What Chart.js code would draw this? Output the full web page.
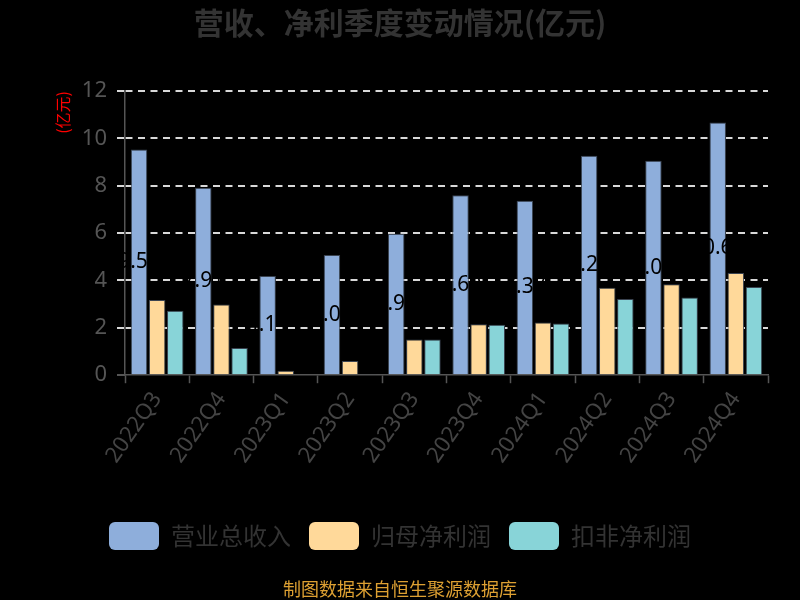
<!DOCTYPE html>
<html>
<head>
<meta charset="utf-8">
<script src="https://cdn.jsdelivr.net/npm/chart.js@4"></script>
<style>
  html, body { margin:0; padding:0; background:#000; }
  canvas { display:block; }
</style>
</head>
<body>
<canvas id="c" width="800" height="600"></canvas>
<script>
const categories = ['2022Q3','2022Q4','2023Q1','2023Q2','2023Q3','2023Q4','2024Q1','2024Q2','2024Q3','2024Q4'];
const revenue = [9.53, 7.91, 4.19, 5.08, 5.97, 7.60, 7.37, 9.27, 9.05, 10.67];
const netProfit = [3.17, 2.99, 0.19, 0.60, 1.51, 2.15, 2.23, 3.69, 3.84, 4.31];
const deductedProfit = [2.72, 1.15, 0.00, 0.03, 1.51, 2.13, 2.18, 3.22, 3.28, 3.72];
const seriesNames = ['营业总收入', '归母净利润', '扣非净利润'];
const yTicks = [0, 2, 4, 6, 8, 10, 12];

const colors = ['#8eaedb', '#ffd99a', '#88d4d8'];
const FONT = '"Noto Sans", "Noto Sans CJK SC", sans-serif';
const CJK = '"Noto Sans CJK SC", "Noto Sans", sans-serif';

const labelPlugin = {
  id: 'barLabels',
  afterDatasetsDraw(chart) {
    const ctx = chart.ctx;
    const meta = chart.getDatasetMeta(0);
    const data = chart.data.datasets[0].data;
    ctx.save();
    ctx.globalAlpha = 1;
    ctx.font = '21px ' + FONT;
    ctx.fillStyle = '#000000';
    ctx.textAlign = 'center';
    ctx.textBaseline = 'middle';
    meta.data.forEach((el, i) => {
      const p = el.getProps(['x', 'y', 'base'], true);
      ctx.fillText(data[i].toFixed(2), p.x, (p.y + p.base) / 2);
    });
    ctx.restore();
  }
};

new Chart(document.getElementById('c'), {
  type: 'bar',
  data: {
    labels: categories,
    datasets: [
      { label: seriesNames[0], data: revenue, backgroundColor: colors[0], borderColor: '#3a4350', borderWidth: 1 },
      { label: seriesNames[1], data: netProfit, backgroundColor: colors[1], borderColor: '#3a4350', borderWidth: 1 },
      { label: seriesNames[2], data: deductedProfit, backgroundColor: colors[2], borderColor: '#3a4350', borderWidth: 1 }
    ]
  },
  options: {
    responsive: false,
    animation: false,
    layout: { padding: 0 },
    datasets: { bar: { categoryPercentage: 0.845, barPercentage: 0.91 } },
    plugins: {
      title: {
        display: true,
        text: '营收、净利季度变动情况(亿元)',
        color: '#333',
        font: { size: 30, weight: 'bold', family: CJK },
        padding: { top: 5, bottom: 50 }
      },
      subtitle: {
        display: true,
        position: 'bottom',
        text: '制图数据来自恒生聚源数据库',
        color: '#dda032',
        font: { size: 18, family: CJK },
        padding: { top: 18.5, bottom: 0 }
      },
      legend: {
        position: 'bottom',
        labels: {
          boxWidth: 50,
          boxHeight: 28,
          useBorderRadius: true,
          borderRadius: 6,
          padding: 18,
          color: '#333',
          font: { size: 24, family: CJK },
          generateLabels(chart) {
            return chart.data.datasets.map((ds, i) => ({
              text: ds.label,
              fillStyle: ds.backgroundColor,
              strokeStyle: 'rgba(0,0,0,0)',
              lineWidth: 0,
              borderRadius: 6,
              fontColor: '#333',
              datasetIndex: i,
              hidden: false
            }));
          }
        }
      },
      tooltip: { enabled: false }
    },
    scales: {
      x: {
        grid: { display: true, drawOnChartArea: false, drawTicks: true, tickLength: 8, tickColor: '#555', tickWidth: 1.5 },
        border: { color: '#555', width: 1.5 },
        ticks: { color: '#444', font: { size: 22, family: FONT }, minRotation: 55, maxRotation: 55, autoSkip: false, padding: 4 },
        afterFit(s) { s.height = 128.7; }
      },
      y: {
        min: 0,
        max: 12,
        afterBuildTicks(s) { s.ticks = yTicks.map(v => ({ value: v })); },
        ticks: { color: '#555', font: { size: 22, family: FONT }, padding: 10 },
        grid: {
          color: c => (c.tick && c.tick.value === 0) ? 'rgba(0,0,0,0)' : '#d8d8d8',
          lineWidth: 2,
          tickLength: 8,
          tickColor: c => (c.tick && c.tick.value === 0) ? '#555' : '#d8d8d8',
          tickWidth: 2
        },
        border: { color: '#555', width: 1.5, dash: [7, 5.5] },
        title: {
          display: true,
          text: '(亿元)',
          color: '#ff0000',
          align: 'end',
          font: { size: 16, family: CJK },
          padding: { top: 53, bottom: 0 }
        },
        afterFit(s) { s.width = 125; }
      },
      y2: {
        position: 'right',
        display: true,
        grid: { display: false, drawTicks: false },
        border: { display: false },
        ticks: { display: false },
        afterFit(s) { s.width = 32; }
      }
    }
  },
  plugins: [labelPlugin]
});
</script>
</body>
</html>
